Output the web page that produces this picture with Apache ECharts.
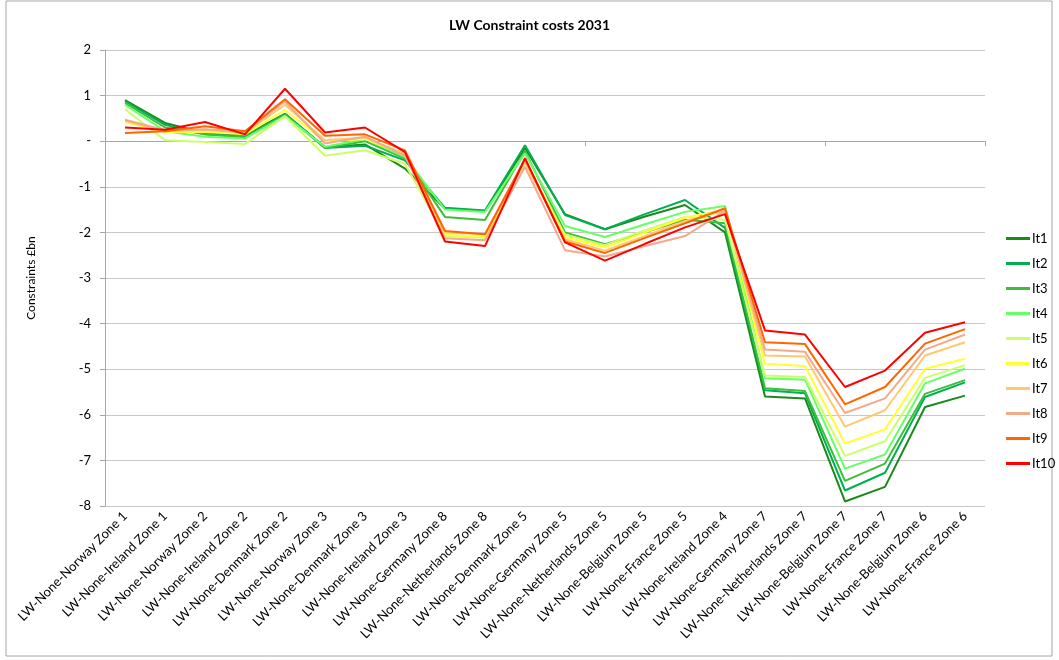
<!DOCTYPE html>
<html>
<head>
<meta charset="utf-8">
<script src="https://cdn.jsdelivr.net/npm/echarts@6/dist/echarts.min.js"></script>
<style>
  html, body { margin: 0; padding: 0; background: #fff; }
  #chart { width: 1059px; height: 660px; }
</style>
</head>
<body>
<div id="chart"></div>
<script>
const categories = [
  'LW-None-Norway Zone 1', 'LW-None-Ireland Zone 1', 'LW-None-Norway Zone 2', 'LW-None-Ireland Zone 2',
  'LW-None-Denmark Zone 2', 'LW-None-Norway Zone 3', 'LW-None-Denmark Zone 3', 'LW-None-Ireland Zone 3',
  'LW-None-Germany Zone 8', 'LW-None-Netherlands Zone 8', 'LW-None-Denmark Zone 5', 'LW-None-Germany Zone 5',
  'LW-None-Netherlands Zone 5', 'LW-None-Belgium Zone 5', 'LW-None-France Zone 5', 'LW-None-Ireland Zone 4',
  'LW-None-Germany Zone 7', 'LW-None-Netherlands Zone 7', 'LW-None-Belgium Zone 7', 'LW-None-France Zone 7',
  'LW-None-Belgium Zone 6', 'LW-None-France Zone 6'
]

const seriesNames = ['It1', 'It2', 'It3', 'It4', 'It5', 'It6', 'It7', 'It8', 'It9', 'It10']
const seriesColors = ['#1a8a1a', '#00b050', '#3cbe3c', '#66ff66', '#ccff66', '#ffff33', '#ffc870', '#f4a98a', '#ff6600', '#ff0000']

const it1 = [0.90, 0.40, 0.18, 0.14, 0.60, -0.13, -0.07, -0.60, -1.48, -1.53, -0.15, -1.60, -1.93, -1.65, -1.40, -2.00, -5.60, -5.64, -7.90, -7.58, -5.83, -5.58]
const it2 = [0.88, 0.36, 0.15, 0.10, 0.60, -0.15, -0.10, -0.42, -1.46, -1.52, -0.09, -1.62, -1.93, -1.60, -1.29, -1.90, -5.46, -5.53, -7.66, -7.27, -5.61, -5.29]
const it3 = [0.84, 0.30, 0.15, 0.08, 0.58, -0.15, 0.00, -0.38, -1.66, -1.73, -0.22, -2.00, -2.26, -2.00, -1.72, -1.80, -5.42, -5.48, -7.45, -7.07, -5.54, -5.24]
const it4 = [0.80, 0.22, 0.10, 0.06, 0.55, -0.12, 0.05, -0.35, -1.50, -1.55, -0.27, -1.86, -2.10, -1.82, -1.55, -1.42, -5.20, -5.23, -7.18, -6.87, -5.31, -4.99]
const it5 = [0.70, 0.02, -0.02, -0.06, 0.55, -0.32, -0.20, -0.50, -2.08, -2.12, -0.42, -2.05, -2.28, -1.95, -1.66, -1.72, -5.14, -5.17, -6.90, -6.58, -5.19, -4.91]
const it6 = [0.42, 0.20, 0.20, 0.15, 0.68, 0.00, 0.05, -0.30, -2.05, -2.10, -0.44, -2.10, -2.33, -2.00, -1.68, -1.50, -4.88, -4.93, -6.63, -6.32, -4.99, -4.77]
const it7 = [0.45, 0.22, 0.25, 0.18, 0.80, 0.02, 0.08, -0.28, -2.00, -2.04, -0.46, -2.15, -2.40, -2.08, -1.75, -1.52, -4.70, -4.72, -6.26, -5.90, -4.70, -4.41]
const it8 = [0.47, 0.24, 0.26, 0.20, 0.87, -0.05, 0.10, -0.32, -2.13, -2.17, -0.56, -2.39, -2.53, -2.30, -2.08, -1.53, -4.57, -4.62, -5.96, -5.64, -4.57, -4.24]
const it9 = [0.18, 0.22, 0.33, 0.22, 0.92, 0.12, 0.15, -0.20, -1.97, -2.04, -0.39, -2.20, -2.45, -2.12, -1.80, -1.47, -4.41, -4.45, -5.77, -5.39, -4.44, -4.12]
const it10 = [0.30, 0.25, 0.42, 0.15, 1.15, 0.19, 0.30, -0.24, -2.20, -2.30, -0.37, -2.22, -2.62, -2.25, -1.89, -1.60, -4.15, -4.24, -5.39, -5.03, -4.20, -3.97]

const seriesData = [it1, it2, it3, it4, it5, it6, it7, it8, it9, it10]

const fontFamily = 'Lato, "Liberation Sans", sans-serif'

const myChart = echarts.init(document.getElementById('chart'))
const option = {
  animation: false,
  textStyle: { fontFamily: fontFamily },
  graphic: [
    {
      type: 'rect',
      shape: { x: 6, y: 1, width: 1046, height: 655 },
      style: { fill: 'none', stroke: '#a6a6a6', lineWidth: 1 }
    }
  ],
  title: {
    text: 'LW Constraint costs 2031',
    left: 'center',
    top: 13,
    textStyle: { fontSize: 14, fontWeight: 'bold', color: '#000', fontFamily: fontFamily }
  },
  legend: {
    orient: 'vertical',
    left: 1001,
    top: 227,
    itemWidth: 24,
    itemHeight: 3,
    itemGap: 12,
    icon: 'rect',
    textStyle: { fontSize: 13, color: '#000', padding: [0, 0, 0, -3] },
    data: seriesNames
  },
  grid: { left: 105, right: 74, top: 50, bottom: 154 },
  xAxis: [
    {
      type: 'category',
      data: categories,
      position: 'bottom',
      axisLine: { show: false, onZero: false },
      axisTick: { show: false },
      axisLabel: { rotate: 45, fontSize: 13, color: '#000', interval: 0, margin: 8 }
    },
    {
      type: 'category',
      data: categories,
      position: 'top',
      axisLine: { show: true, onZero: true, lineStyle: { color: '#a6a6a6', width: 1 } },
      axisTick: { show: true, inside: true, length: 5, lineStyle: { color: '#a6a6a6' } },
      axisLabel: { show: false }
    }
  ],
  yAxis: {
    type: 'value',
    min: -8,
    max: 2,
    interval: 1,
    name: 'Constraints £bn',
    nameLocation: 'middle',
    nameGap: 68,
    nameTextStyle: { fontSize: 12, color: '#000' },
    axisLine: { show: true, lineStyle: { color: '#a6a6a6' } },
    axisTick: { show: true, length: 5, lineStyle: { color: '#a6a6a6' } },
    axisLabel: {
      fontSize: 13,
      color: '#000',
      margin: 14,
      formatter: function (v) { return v === 0 ? '-' : String(v) }
    },
    splitLine: { show: true, lineStyle: { color: '#c8c8c8', width: 1 } }
  },
  series: seriesNames.map(function (name, i) {
    return {
      name: name,
      type: 'line',
      xAxisIndex: 0,
      data: seriesData[i],
      symbol: 'none',
      color: seriesColors[i],
      lineStyle: { width: 2, color: seriesColors[i] }
    }
  })
}
myChart.setOption(option)
</script>
</body>
</html>
